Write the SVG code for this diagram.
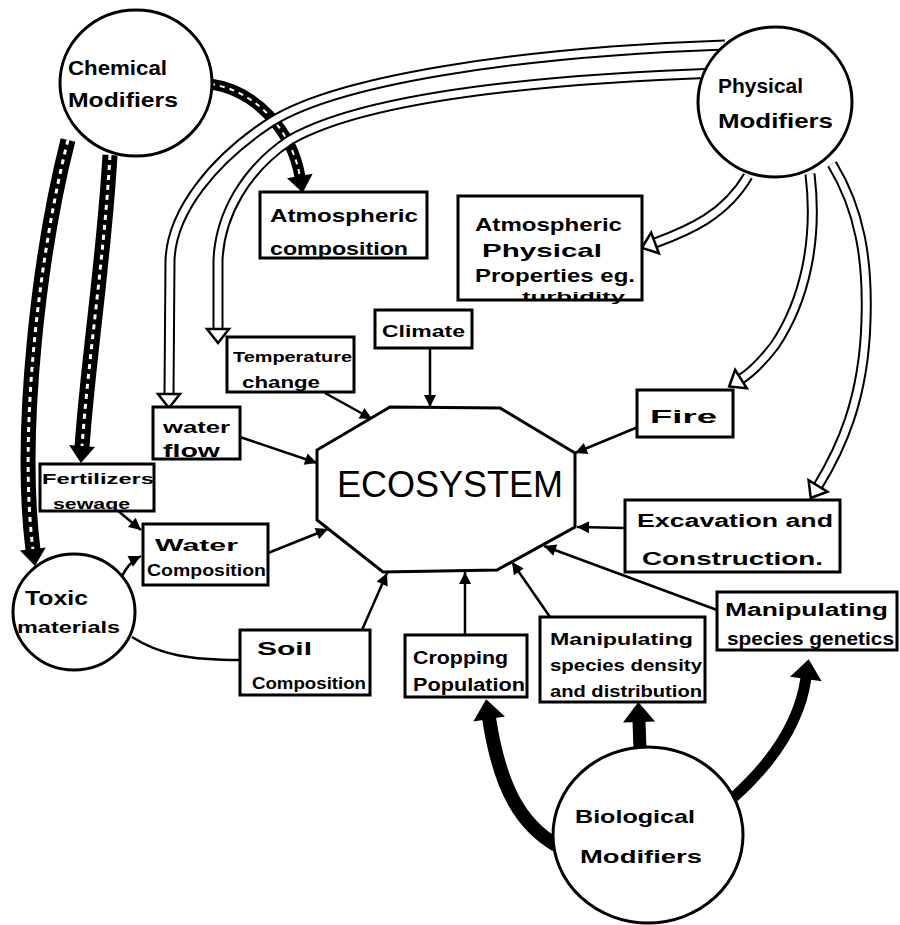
<svg xmlns="http://www.w3.org/2000/svg" width="900" height="925" viewBox="0 0 900 925">
<style>
.shape{fill:#fff;stroke:#000;stroke-width:3}
.lbl{font-family:"Liberation Sans",Arial,sans-serif;font-weight:bold;fill:#000}
.eco{font-family:"Liberation Sans",Arial,sans-serif;font-weight:normal;fill:#000}
.thin{fill:none;stroke:#000;stroke-width:2.5;marker-end:url(#ah)}
.plain{fill:none;stroke:#000;stroke-width:2.5}
.hollowO{fill:none;stroke:#000;stroke-width:11}
.hollowI{fill:none;stroke:#fff;stroke-width:7;marker-end:url(#hollow)}
.hatchO{fill:none;stroke:#000;stroke-width:15}
.hatchI{fill:none;stroke:#fff;stroke-width:3;stroke-dasharray:5 5;marker-end:url(#bighead)}
.thick{fill:none;stroke:#000;stroke-width:13;marker-end:url(#thickhead)}
</style>
<defs>
<marker id="ah" markerUnits="userSpaceOnUse" markerWidth="14" markerHeight="14" refX="12" refY="6" orient="auto" overflow="visible">
<path d="M0,0 L12,6 L0,12 z" fill="#000"/>
</marker>
<marker id="hollow" markerUnits="userSpaceOnUse" markerWidth="24" markerHeight="26" refX="0" refY="12" orient="auto" overflow="visible">
<path d="M0,1 L14,12 L0,23 z" fill="#fff" stroke="#000" stroke-width="2.5"/>
</marker>
<marker id="bighead" markerUnits="userSpaceOnUse" markerWidth="20" markerHeight="30" refX="0" refY="13" orient="auto" overflow="visible">
<path d="M-1,0 L16,13 L-1,26 z" fill="#000"/>
</marker>
<marker id="thickhead" markerUnits="userSpaceOnUse" markerWidth="22" markerHeight="34" refX="0" refY="16" orient="auto" overflow="visible">
<path d="M-1,0 L19,16 L-1,32 z" fill="#000"/>
</marker>
</defs>
<rect width="900" height="925" fill="#fff"/>

<g id="connectors">
<!-- Chemical hatched arrows -->
<path class="hatchO" d="M210 84 C255 90 292 130 300 177" style="stroke-width:11"/>
<path class="hatchI" d="M210 84 C255 90 292 130 300 177" style="stroke-width:2"/>
<path class="hatchO" d="M110 155 C104 260 88 360 82 447"/>
<path class="hatchI" d="M110 155 C104 260 88 360 82 447"/>
<path class="hatchO" d="M68 140 C40 250 18 430 33 550"/>
<path class="hatchI" d="M68 140 C40 250 18 430 33 550"/>
<!-- Physical hollow arrows -->
<path class="hollowO" d="M725 45 C520 52 330 80 265 126 C215 160 172 210 170 260 L169 394"/>
<path class="hollowI" d="M725 45 C520 52 330 80 265 126 C215 160 172 210 170 260 L169 394"/>
<path class="hollowO" d="M717 73 C520 80 360 100 290 140 C245 170 220 215 218 260 L218 329"/>
<path class="hollowI" d="M717 73 C520 80 360 100 290 140 C245 170 220 215 218 260 L218 329"/>
<path class="hollowO" d="M748 176 C725 215 690 230 655 243"/>
<path class="hollowI" d="M748 176 C725 215 690 230 655 243"/>
<path class="hollowO" d="M810 174 C818 240 805 300 775 345 C762 362 752 372 741 379"/>
<path class="hollowI" d="M810 174 C818 240 805 300 775 345 C762 362 752 372 741 379"/>
<path class="hollowO" d="M832 164 C860 210 868 260 866 320 C864 400 840 450 818 486"/>
<path class="hollowI" d="M832 164 C860 210 868 260 866 320 C864 400 840 450 818 486"/>
<!-- Biological thick arrows -->
<path class="thick" d="M556 845 C522 825 500 790 489 718" style="stroke-width:14"/>
<path class="thick" d="M640 750 L639 721"/>
<path class="thick" d="M734 797 C775 760 800 720 806 678" style="stroke-width:11"/>
<!-- thin arrows into ECOSYSTEM -->
<path class="thin" d="M430 348 L430 407"/>
<path class="thin" d="M325 393 L372 419"/>
<path class="thin" d="M240 437 L317 463"/>
<path class="thin" d="M268 553 L328 529"/>
<path class="thin" d="M362 630 L387 573"/>
<path class="thin" d="M465 635 L465 572"/>
<path class="thin" d="M550 617 L512 562"/>
<path class="thin" d="M717 610 L544 546"/>
<path class="thin" d="M625 528 L577 527"/>
<path class="thin" d="M638 427 L575 453"/>
<!-- other thin connectors -->
<path class="thin" d="M117 510 L141 530"/>
<path class="thin" d="M121 578 C126 568 131 561 141 556"/>
<path class="plain" d="M132 637 C160 655 190 660 240 660"/>
</g>

<g id="ecosystem">
<polygon class="shape" points="390,407 500,408 575,453 575,527 497,570 383,572 317,520 317,450"/>
<text class="eco" x="337" y="497" font-size="36" textLength="226" lengthAdjust="spacingAndGlyphs">ECOSYSTEM</text>
</g>

<g id="chemical-modifiers">
<ellipse class="shape" cx="136" cy="83" rx="76" ry="73"/>
<text class="lbl" x="68" y="75" font-size="20" textLength="99" lengthAdjust="spacingAndGlyphs">Chemical</text>
<text class="lbl" x="68" y="107" font-size="21" textLength="110" lengthAdjust="spacingAndGlyphs">Modifiers</text>
</g>

<g id="physical-modifiers">
<ellipse class="shape" cx="775" cy="102" rx="77" ry="75"/>
<text class="lbl" x="718" y="93" font-size="20" textLength="85" lengthAdjust="spacingAndGlyphs">Physical</text>
<text class="lbl" x="718" y="128" font-size="21" textLength="115" lengthAdjust="spacingAndGlyphs">Modifiers</text>
</g>

<g id="toxic-material">
<ellipse class="shape" cx="74" cy="612" rx="61" ry="58"/>
<text class="lbl" x="25" y="605" font-size="20" textLength="63" lengthAdjust="spacingAndGlyphs">Toxic</text>
<text class="lbl" x="17" y="633" font-size="17" textLength="103" lengthAdjust="spacingAndGlyphs">materials</text>
</g>

<g id="biological-modifiers">
<ellipse class="shape" cx="648" cy="835" rx="95" ry="88"/>
<text class="lbl" x="575" y="823" font-size="19" textLength="120" lengthAdjust="spacingAndGlyphs">Biological</text>
<text class="lbl" x="580" y="863" font-size="19" textLength="122" lengthAdjust="spacingAndGlyphs">Modifiers</text>
</g>

<g id="atmospheric-composition">
<rect class="shape" x="260" y="192" width="167" height="66"/>
<text class="lbl" x="270" y="222" font-size="19" textLength="148" lengthAdjust="spacingAndGlyphs">Atmospheric</text>
<text class="lbl" x="270" y="255" font-size="18" textLength="138" lengthAdjust="spacingAndGlyphs">composition</text>
</g>

<g id="atmospheric-physical">
<rect class="shape" x="458" y="196" width="184" height="104"/>
<text class="lbl" x="475" y="231" font-size="19" textLength="147" lengthAdjust="spacingAndGlyphs">Atmospheric</text>
<text class="lbl" x="482" y="257" font-size="19" textLength="120" lengthAdjust="spacingAndGlyphs">Physical</text>
<text class="lbl" x="475" y="282" font-size="18" textLength="160" lengthAdjust="spacingAndGlyphs">Properties eg.</text>
<text class="lbl" x="522" y="301" font-size="12" textLength="103" lengthAdjust="spacingAndGlyphs">turbidity</text>
</g>

<g id="temperature-change">
<rect class="shape" x="227" y="337" width="127" height="55"/>
<text class="lbl" x="233" y="362" font-size="15" textLength="119" lengthAdjust="spacingAndGlyphs">Temperature</text>
<text class="lbl" x="242" y="388" font-size="16" textLength="78" lengthAdjust="spacingAndGlyphs">change</text>
</g>

<g id="climate">
<rect class="shape" x="375" y="310" width="97" height="38"/>
<text class="lbl" x="382" y="337" font-size="16" textLength="83" lengthAdjust="spacingAndGlyphs">Climate</text>
</g>

<g id="water-flow">
<rect class="shape" x="153" y="407" width="87" height="52"/>
<text class="lbl" x="163" y="433" font-size="16" textLength="67" lengthAdjust="spacingAndGlyphs">water</text>
<text class="lbl" x="163" y="457" font-size="18" textLength="57" lengthAdjust="spacingAndGlyphs">flow</text>
</g>

<g id="fertilizers-sewage">
<rect class="shape" x="40" y="464" width="114" height="47"/>
<text class="lbl" x="42" y="484" font-size="15" textLength="112" lengthAdjust="spacingAndGlyphs">Fertilizers</text>
<text class="lbl" x="53" y="509" font-size="15" textLength="77" lengthAdjust="spacingAndGlyphs">sewage</text>
</g>

<g id="water-composition">
<rect class="shape" x="143" y="524" width="125" height="61"/>
<text class="lbl" x="155" y="551" font-size="17" textLength="83" lengthAdjust="spacingAndGlyphs">Water</text>
<text class="lbl" x="147" y="576" font-size="17" textLength="119" lengthAdjust="spacingAndGlyphs">Composition</text>
</g>

<g id="soil-composition">
<rect class="shape" x="240" y="630" width="130" height="65"/>
<text class="lbl" x="257" y="655" font-size="18" textLength="55" lengthAdjust="spacingAndGlyphs">Soil</text>
<text class="lbl" x="252" y="689" font-size="16" textLength="114" lengthAdjust="spacingAndGlyphs">Composition</text>
</g>

<g id="cropping-population">
<rect class="shape" x="405" y="635" width="122" height="62"/>
<text class="lbl" x="413" y="664" font-size="18" textLength="95" lengthAdjust="spacingAndGlyphs">Cropping</text>
<text class="lbl" x="413" y="691" font-size="18" textLength="112" lengthAdjust="spacingAndGlyphs">Population</text>
</g>

<g id="species-density">
<rect class="shape" x="540" y="617" width="165" height="85"/>
<text class="lbl" x="550" y="645" font-size="17" textLength="143" lengthAdjust="spacingAndGlyphs">Manipulating</text>
<text class="lbl" x="550" y="671" font-size="17" textLength="152" lengthAdjust="spacingAndGlyphs">species density</text>
<text class="lbl" x="550" y="697" font-size="17" textLength="152" lengthAdjust="spacingAndGlyphs">and distribution</text>
</g>

<g id="species-genetics">
<rect class="shape" x="717" y="592" width="180" height="58"/>
<text class="lbl" x="725" y="616" font-size="18" textLength="163" lengthAdjust="spacingAndGlyphs">Manipulating</text>
<text class="lbl" x="727" y="645" font-size="18" textLength="167" lengthAdjust="spacingAndGlyphs">species genetics</text>
</g>

<g id="excavation-construction">
<rect class="shape" x="625" y="500" width="215" height="72"/>
<text class="lbl" x="637" y="527" font-size="18" textLength="196" lengthAdjust="spacingAndGlyphs">Excavation and</text>
<text class="lbl" x="642" y="565" font-size="18" textLength="181" lengthAdjust="spacingAndGlyphs">Construction.</text>
</g>

<g id="fire">
<rect class="shape" x="637" y="390" width="96" height="47"/>
<text class="lbl" x="650" y="423" font-size="19" textLength="67" lengthAdjust="spacingAndGlyphs">Fire</text>
</g>
</svg>
